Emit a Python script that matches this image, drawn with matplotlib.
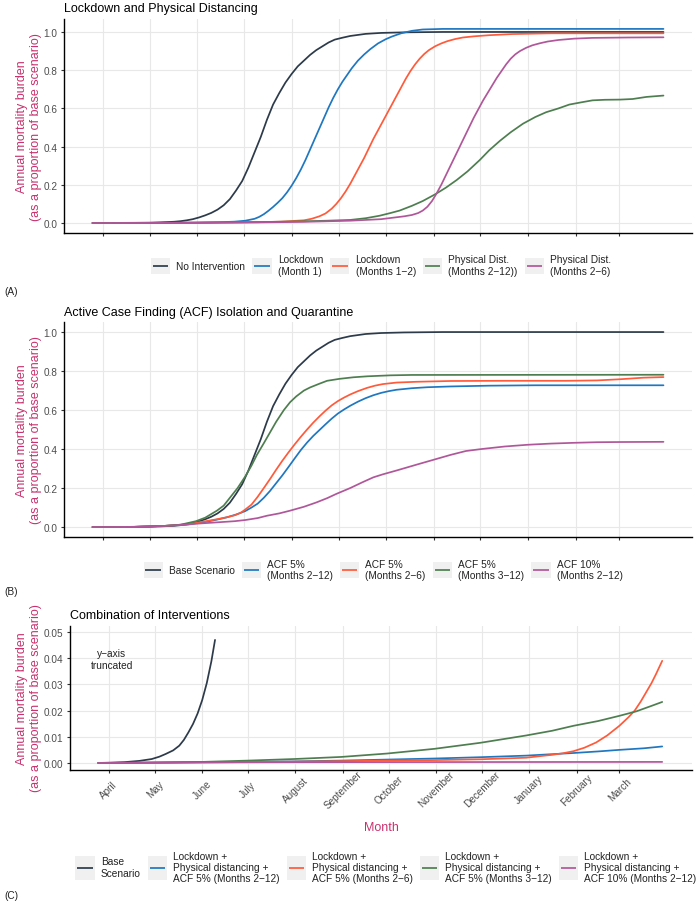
import matplotlib
matplotlib.use("Agg")
import matplotlib.pyplot as plt
from matplotlib.legend_handler import HandlerBase
from matplotlib.patches import Rectangle
from matplotlib.lines import Line2D

plt.rcParams['font.family'] = ['Liberation Sans', 'DejaVu Sans']

# ---------------- data (day 0 = 1 April 2020) ----------------
month_days = [0, 30, 61, 91, 122, 153, 183, 214, 244, 275, 306, 334]
month_labels = ["April", "May", "June", "July", "August", "September", "October",
                "November", "December", "January", "February", "March"]

# Panel A
base_days = [-7, 0, 10, 20, 30, 37, 42, 46, 50, 54, 58, 62, 66, 70, 74, 78, 82, 86, 90, 94, 98,
             102, 106, 110, 114, 118, 122, 126, 130, 134, 138, 142, 146, 150, 155, 160, 170,
             180, 195, 220, 363]
base_vals = [0, 0.0003, 0.0006, 0.001, 0.0017, 0.0034, 0.005, 0.0066, 0.0095, 0.014, 0.02, 0.029,
             0.04, 0.053, 0.07, 0.093, 0.125, 0.17, 0.22, 0.29, 0.37, 0.45, 0.54, 0.62, 0.68,
             0.735, 0.78, 0.82, 0.85, 0.88, 0.905, 0.925, 0.945, 0.96, 0.97, 0.979, 0.99,
             0.995, 0.998, 1.0, 1.0]

lock1_days = [-7, 30, 60, 75, 85, 92, 98, 101, 104, 107, 110, 113, 116, 119, 122, 125, 128, 131,
              134, 137, 140, 143, 146, 149, 152, 155, 158, 161, 165, 169, 173, 178, 183, 187,
              193, 200, 207, 220, 363]
lock1_vals = [0, 0.0005, 0.002, 0.004, 0.007, 0.012, 0.022, 0.032, 0.046, 0.064, 0.084, 0.106,
              0.13, 0.16, 0.195, 0.235, 0.28, 0.33, 0.385, 0.44, 0.495, 0.55, 0.605, 0.655,
              0.70, 0.74, 0.775, 0.81, 0.85, 0.882, 0.91, 0.94, 0.962, 0.976, 0.993, 1.006,
              1.013, 1.016, 1.016]

lock12_days = [-7, 60, 100, 115, 130, 135, 140, 144, 148, 151, 154, 157, 160, 163, 166, 169,
               172, 175, 178, 181, 184, 187, 190, 193, 196, 199, 202, 205, 208, 211, 215, 219,
               223, 228, 233, 240, 250, 265, 290, 363]
lock12_vals = [0, 0.001, 0.004, 0.007, 0.014, 0.022, 0.035, 0.05, 0.075, 0.10, 0.13, 0.165,
               0.205, 0.25, 0.295, 0.34, 0.39, 0.44, 0.485, 0.53, 0.575, 0.62, 0.665, 0.71,
               0.755, 0.795, 0.83, 0.86, 0.885, 0.905, 0.925, 0.94, 0.952, 0.963, 0.971, 0.977,
               0.983, 0.989, 0.993, 0.993]

pd212_days = [-7, 30, 60, 90, 110, 130, 145, 160, 170, 179, 186, 192, 200, 207, 215, 222, 229,
              236, 244, 250, 257, 264, 272, 280, 287, 295, 302, 310, 317, 325, 335, 343, 352, 363]
pd212_vals = [0, 0.0005, 0.002, 0.004, 0.006, 0.009, 0.012, 0.016, 0.025, 0.038, 0.052, 0.065,
              0.09, 0.115, 0.15, 0.185, 0.225, 0.27, 0.33, 0.38, 0.43, 0.475, 0.52, 0.555, 0.58,
              0.60, 0.62, 0.632, 0.642, 0.645, 0.646, 0.649, 0.66, 0.667]

pd26_days = [-7, 60, 100, 130, 160, 180, 190, 195, 200, 204, 207, 210, 213, 216, 219, 222, 225,
             228, 231, 234, 237, 240, 243, 246, 249, 252, 255, 258, 261, 264, 267, 270, 274,
             278, 283, 288, 295, 305, 317, 340, 363]
pd26_vals = [0, 0.001, 0.003, 0.006, 0.012, 0.02, 0.03, 0.035, 0.042, 0.052, 0.065, 0.085,
             0.115, 0.155, 0.20, 0.25, 0.30, 0.35, 0.40, 0.45, 0.50, 0.55, 0.595, 0.64, 0.68,
             0.72, 0.76, 0.795, 0.83, 0.86, 0.883, 0.90, 0.917, 0.93, 0.941, 0.95, 0.958,
             0.965, 0.969, 0.971, 0.972]

# Panel B
acf212_days = [-7, 20, 40, 55, 60, 66, 73.6, 80, 86, 92, 96, 100, 104, 108, 112, 116, 120, 124,
               128, 132, 136, 140, 144, 148, 152, 156, 160, 165, 170, 175, 180, 185, 190, 200,
               210, 225, 250, 280, 363]
acf212_vals = [0, 0.001, 0.006, 0.014, 0.019, 0.026, 0.038, 0.05, 0.064, 0.082, 0.10, 0.12,
               0.15, 0.185, 0.225, 0.265, 0.308, 0.352, 0.395, 0.433, 0.467, 0.497, 0.527,
               0.556, 0.582, 0.603, 0.622, 0.643, 0.661, 0.676, 0.688, 0.697, 0.704, 0.712,
               0.717, 0.721, 0.725, 0.727, 0.727]

acf26_days = [-7, 20, 40, 55, 65, 73.6, 80, 85, 89, 92, 96, 100, 104, 108, 112, 116, 120, 124,
              128, 132, 136, 140, 144, 148, 152, 156, 160, 165, 171, 176, 181, 190, 203, 225,
              260, 300, 320, 335, 350, 363]
acf26_vals = [0, 0.001, 0.006, 0.015, 0.028, 0.04, 0.05, 0.06, 0.073, 0.09, 0.115, 0.155, 0.20,
              0.246, 0.294, 0.34, 0.383, 0.424, 0.463, 0.50, 0.535, 0.567, 0.597, 0.624, 0.646,
              0.664, 0.68, 0.697, 0.714, 0.725, 0.733, 0.741, 0.745, 0.749, 0.75, 0.75, 0.752,
              0.758, 0.766, 0.769]

acf312_days = [-7, 20, 40, 50, 60, 66, 73.6, 78, 82, 87, 92, 96, 99.5, 104, 108, 112, 117, 121,
               125, 130, 134, 140, 145, 153, 162, 171, 186, 200, 363]
acf312_vals = [0, 0.001, 0.006, 0.012, 0.03, 0.048, 0.084, 0.11, 0.15, 0.20, 0.26, 0.315, 0.37,
               0.43, 0.485, 0.54, 0.60, 0.64, 0.67, 0.70, 0.716, 0.735, 0.75, 0.76, 0.768,
               0.773, 0.778, 0.78, 0.781]

acf10_days = [-7, 20, 40, 55, 60, 73.6, 85, 92, 100, 106, 114, 121, 130, 138, 145, 151, 160,
              168, 175, 181, 190, 203, 214, 225, 235, 245, 260, 275, 290, 305, 320, 335, 363]
acf10_vals = [0, 0.001, 0.006, 0.013, 0.017, 0.024, 0.03, 0.036, 0.046, 0.058, 0.07, 0.084,
              0.104, 0.126, 0.148, 0.17, 0.20, 0.23, 0.255, 0.27, 0.29, 0.32, 0.345, 0.37, 0.39,
              0.40, 0.413, 0.422, 0.428, 0.432, 0.435, 0.436, 0.437]

# Panel C
cbase_days = [-7, 0, 10, 20, 28, 33, 37, 42, 46, 49, 52, 55, 58, 61, 64, 67, 69.4]
cbase_vals = [0, 0.0001, 0.0003, 0.0008, 0.0015, 0.0024, 0.0034, 0.0048, 0.0066, 0.0088,
              0.0117, 0.0149, 0.0189, 0.024, 0.0305, 0.0388, 0.047]

c212_days = [-7, 30, 61, 121, 152, 213, 243, 273, 282, 304, 320, 334, 350, 362]
c212_vals = [0, 0.0001, 0.0003, 0.0006, 0.0009, 0.0017, 0.0022, 0.0028, 0.0031, 0.0038,
             0.0044, 0.005, 0.0056, 0.0063]

c26_days = [-7, 61, 121, 152, 213, 243, 273, 282, 290, 297, 304, 311, 318.7, 326, 334, 340, 344,
            348, 351.5, 355, 358, 362]
c26_vals = [0, 0.0002, 0.0005, 0.0007, 0.0011, 0.0014, 0.002, 0.0026, 0.0031, 0.0037, 0.0045,
            0.0058, 0.0078, 0.0105, 0.0142, 0.0175, 0.020, 0.0235, 0.027, 0.0305, 0.034, 0.039]

c312_days = [-7, 0, 30, 61, 91, 121, 152, 182, 213, 243, 273, 290, 304, 320, 334, 345, 355, 362]
c312_vals = [0, 0.00002, 0.0002, 0.0004, 0.0009, 0.0015, 0.0023, 0.0036, 0.0054, 0.0077,
             0.0105, 0.0123, 0.0142, 0.016, 0.018, 0.0197, 0.0218, 0.0233]

c10_days = [-7, 30, 61, 121, 362]
c10_vals = [0, 0.0001, 0.0002, 0.0003, 0.0004]

labels_a = ["No Intervention", "Lockdown\n(Month 1)", "Lockdown\n(Months 1\u22122)",
            "Physical Dist.\n(Months 2\u221212))", "Physical Dist.\n(Months 2\u22126)"]
labels_b = ["Base Scenario", "ACF 5%\n(Months 2\u221212)", "ACF 5%\n(Months 2\u22126)",
            "ACF 5%\n(Months 3\u221212)", "ACF 10%\n(Months 2\u221212)"]
labels_c = ["Base\nScenario",
            "Lockdown +\nPhysical distancing +\nACF 5% (Months 2\u221212)",
            "Lockdown +\nPhysical distancing +\nACF 5% (Months 2\u22126)",
            "Lockdown +\nPhysical distancing +\nACF 5% (Months 3\u221212)",
            "Lockdown +\nPhysical distancing +\nACF 10% (Months 2\u221212)"]

titles = ["Lockdown and Physical Distancing",
          "Active Case Finding (ACF) Isolation and Quarantine",
          "Combination of Interventions"]

# ---------------- style ----------------
COLORS = ["#2c3a4a", "#1f77c0", "#ff5a3a", "#4e7e50", "#b0579a"]
LABEL_COL = "#c8326e"
GRID = "#e8e8e8"
KEY_BG = "#f0f0f0"
LW = 1.25

W, H = 700, 903
fig = plt.figure(figsize=(7, 9.03), dpi=100)


def box(l, t, r, b):
    return [l / W, 1 - b / H, (r - l) / W, (b - t) / H]


class KeyHandler(HandlerBase):
    def create_artists(self, legend, orig_handle, xdescent, ydescent, width, height,
                       fontsize, trans):
        bg = Rectangle((-xdescent, -ydescent), width, height, facecolor=KEY_BG,
                       edgecolor='none', transform=trans)
        y = -ydescent + height / 2
        ln = Line2D([-xdescent + 0.1 * width, -xdescent + 0.9 * width], [y, y],
                    color=orig_handle.get_color(), lw=orig_handle.get_linewidth(),
                    solid_capstyle='butt', transform=trans)
        return [bg, ln]


def style_axes(ax, ylim, yticks, yfmt, show_xlabels):
    ax.set_xlim(-25.5, 381.5)
    ax.set_ylim(*ylim)
    ax.set_xticks(month_days)
    if show_xlabels:
        ax.set_xticklabels(month_labels, rotation=45, ha='center', va='center',
                           rotation_mode='anchor')
    else:
        ax.set_xticklabels([])
    ax.set_yticks(yticks)
    ax.set_yticklabels([yfmt.format(v) for v in yticks])
    ax.grid(True, color=GRID, lw=0.8)
    ax.set_axisbelow(True)
    for s in ['top', 'right']:
        ax.spines[s].set_visible(False)
    for s in ['left', 'bottom']:
        ax.spines[s].set_color('black')
        ax.spines[s].set_linewidth(1.0)
    ax.tick_params(axis='y', length=2.5, width=0.8, pad=2, labelsize=7.2, labelcolor='#4d4d4d',
                   color='#333333')
    ax.tick_params(axis='x', length=2.5, width=0.8, pad=11.5 if show_xlabels else 2,
                   labelsize=7.2, labelcolor='#4d4d4d', color='#333333')


def add_legend(handles, labels, cx, cy, hh):
    leg = fig.legend(handles, labels, loc='center', bbox_to_anchor=(cx / W, 1 - cy / H),
                     ncol=5, frameon=False, fontsize=7.3, handlelength=1.9,
                     handleheight=hh, handletextpad=0.6, columnspacing=0.7, borderpad=0,
                     handler_map={Line2D: KeyHandler()})
    for t in leg.get_texts():
        t.set_color('#222222')
        t.set_linespacing(1.15)
    return leg


yt = [0.0, 0.2, 0.4, 0.6, 0.8, 1.0]

# ---------------- Panel A ----------------
axA = fig.add_axes(box(64, 20.2, 692, 233.7))
series_a = [(base_days, base_vals), (lock1_days, lock1_vals), (lock12_days, lock12_vals),
            (pd212_days, pd212_vals), (pd26_days, pd26_vals)]
hA = []
for (d, v), c in zip(series_a, COLORS):
    hA += axA.plot(d, v, color=c, lw=LW, solid_capstyle='round', solid_joinstyle='round')
style_axes(axA, (-0.0508, 1.0668), yt, "{:.1f}", False)
axA.set_title(titles[0], loc='left', fontsize=9, pad=6)
add_legend(hA, labels_a, 381, 266, 2.05)

# ---------------- Panel B ----------------
axB = fig.add_axes(box(64, 323.3, 692, 537.8))
series_b = [(base_days, base_vals), (acf212_days, acf212_vals), (acf26_days, acf26_vals),
            (acf312_days, acf312_vals), (acf10_days, acf10_vals)]
hB = []
for (d, v), c in zip(series_b, COLORS):
    hB += axB.plot(d, v, color=c, lw=LW, solid_capstyle='round', solid_joinstyle='round')
style_axes(axB, (-0.05, 1.05), yt, "{:.1f}", False)
axB.set_title(titles[1], loc='left', fontsize=9, pad=5.5)
add_legend(hB, labels_b, 383, 570.5, 2.05)

# ---------------- Panel C ----------------
axC = fig.add_axes(box(70, 626.5, 692, 770.5))
series_c = [(cbase_days, cbase_vals), (c212_days, c212_vals), (c26_days, c26_vals),
            (c312_days, c312_vals), (c10_days, c10_vals)]
hC = []
for (d, v), c in zip(series_c, COLORS):
    hC += axC.plot(d, v, color=c, lw=LW, solid_capstyle='round', solid_joinstyle='round')
style_axes(axC, (-0.0025, 0.0525), [0, 0.01, 0.02, 0.03, 0.04, 0.05], "{:.2f}", True)
axC.set_title(titles[2], loc='left', fontsize=9, pad=5.5)
axC.text(2, 0.0397, "y\u2212axis\ntruncated", ha='center', va='center', fontsize=7.3,
         color='#222222', linespacing=1.25)
add_legend(hC, labels_c, 386, 868, 3.15)

# axis titles
ylab = "Annual mortality burden\n(as a proportion of base scenario)"
for cy in [127, 430.5, 698.5]:
    fig.text(29 / W, 1 - cy / H, ylab, rotation=90, ha='center', va='center',
             fontsize=9, color=LABEL_COL, linespacing=1.15, multialignment='center')
fig.text(381 / W, 1 - 828 / H, "Month", ha='center', va='center', fontsize=9, color=LABEL_COL)

# panel tags
for tag, cy in [("(A)", 292), ("(B)", 592), ("(C)", 896)]:
    fig.text(4 / W, 1 - cy / H, tag, ha='left', va='center', fontsize=7.3, color='#222222')

fig.savefig("out.png", dpi=100)
